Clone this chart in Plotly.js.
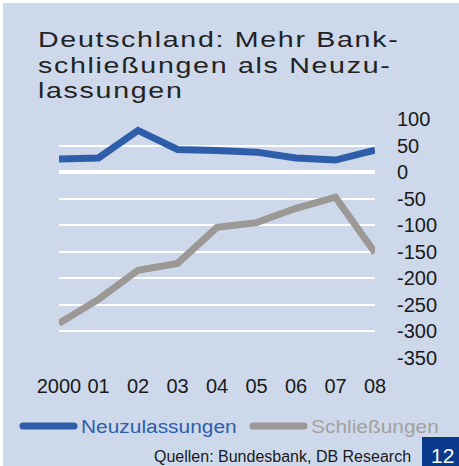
<!DOCTYPE html>
<html>
<head>
<meta charset="utf-8">
<script src="https://cdn.plot.ly/plotly-3.0.1.min.js"></script>
<style>
  html, body { margin: 0; padding: 0; background: #ffffff; }
  #chart { position: absolute; left: 3px; top: 3px; width: 456px; height: 463px; }
  g.annotation[data-index="0"] text,
  g.annotation[data-index="1"] text,
  g.annotation[data-index="2"] text {
    letter-spacing: 1.3px; transform-box: fill-box; transform-origin: left center; transform: scaleX(1.3);
  }
  g.annotation[data-index="3"] text,
  g.annotation[data-index="4"] text {
    transform-box: fill-box; transform-origin: left center; transform: scaleX(1.1);
  }
  .shapelayer path { stroke-linecap: round; }
</style>
</head>
<body>
<div id="chart"></div>
<script>
// ---- data ----
const years = ["2000", "01", "02", "03", "04", "05", "06", "07", "08"];
const neuzulassungen = [25, 27, 79, 43, 41, 38, 27, 23, 42];
const schliessungen = [-285, -240, -185, -172, -104, -95, -68, -47, -152];
const yTicks = [100, 50, 0, -50, -100, -150, -200, -250, -300, -350];
const seriesNames = ["Neuzulassungen", "Schließungen"];
const titleLines = ["Deutschland: Mehr Bank-", "schließungen als Neuzu-", "lassungen"];
const sourceText = "Quellen: Bundesbank, DB Research";
const pageNumber = "12";

// ---- layout geometry (pixels in the chart div) ----
const W = 456, H = 463;
const M = { l: 56, r: 84, t: 116, b: 108 };
const PW = W - M.l - M.r, PH = H - M.t - M.b;
const px = x => (x - M.l) / PW;           // div px -> paper x
const py = y => (M.t + PH - y) / PH;       // div px -> paper y

const BLUE = "#2e5eaa", GREY = "#9b9896", GREYTXT = "#a3a09e", BG = "#cdd8ea";
const FONT = "Liberation Sans, Arial, sans-serif";

const traces = [
  { x: years, y: neuzulassungen, name: seriesNames[0], type: "scatter", mode: "lines",
    line: { color: BLUE, width: 7 }, showlegend: false, hoverinfo: "skip" },
  { x: years, y: schliessungen, name: seriesNames[1], type: "scatter", mode: "lines",
    line: { color: GREY, width: 7 }, showlegend: false, hoverinfo: "skip" }
];

const annotations = [];
const titleMid = [36.5, 62.5, 88];
titleLines.forEach((t, i) => annotations.push({
  text: t, xref: "paper", yref: "paper", x: px(33), y: py(titleMid[i]),
  xanchor: "left", yanchor: "middle", align: "left", showarrow: false,
  font: { family: FONT, size: 22, color: "#222222" }
}));
annotations.push({ text: seriesNames[0], xref: "paper", yref: "paper", x: px(76), y: py(423),
  xanchor: "left", yanchor: "middle", showarrow: false, font: { family: FONT, size: 19, color: BLUE } });
annotations.push({ text: seriesNames[1], xref: "paper", yref: "paper", x: px(306), y: py(423),
  xanchor: "left", yanchor: "middle", showarrow: false, font: { family: FONT, size: 19, color: GREYTXT } });
annotations.push({ text: sourceText, xref: "paper", yref: "paper", x: px(410), y: py(453),
  xanchor: "right", yanchor: "middle", showarrow: false, font: { family: FONT, size: 16, color: "#1a1a1a" } });
annotations.push({ text: pageNumber, xref: "paper", yref: "paper", x: px(439), y: py(452.5),
  xanchor: "center", yanchor: "middle", showarrow: false, font: { family: FONT, size: 21, color: "#ffffff" } });

const shapes = [
  { type: "line", xref: "paper", yref: "paper", x0: px(20), x1: px(71), y0: py(423), y1: py(423),
    line: { color: BLUE, width: 7 } },
  { type: "line", xref: "paper", yref: "paper", x0: px(250), x1: px(301), y0: py(423), y1: py(423),
    line: { color: GREY, width: 7 } },
  { type: "rect", xref: "paper", yref: "paper", x0: px(419), x1: px(457), y0: py(434), y1: py(464),
    fillcolor: "#0b3a8c", line: { width: 0 }, layer: "below" }
];

const layout = {
  width: W, height: H,
  margin: M,
  paper_bgcolor: BG, plot_bgcolor: BG,
  font: { family: FONT, color: "#1a1a1a" },
  showlegend: false,
  xaxis: {
    type: "category", range: [0, 8], showgrid: false, zeroline: false, showline: false,
    ticks: "", tickfont: { family: FONT, size: 20, color: "#1a1a1a" }, ticklabelstandoff: 14,
    fixedrange: true
  },
  yaxis: {
    side: "right", range: [-350.6, 100.6], tickvals: yTicks, ticktext: yTicks.map(String),
    showgrid: true, gridcolor: "#ffffff", gridwidth: 2,
    zeroline: true, zerolinecolor: "#ffffff", zerolinewidth: 4,
    showline: false, ticks: "", tickfont: { family: FONT, size: 20, color: "#1a1a1a" },
    ticklabelstandoff: 21, fixedrange: true
  },
  annotations: annotations,
  shapes: shapes
};

Plotly.newPlot("chart", traces, layout, { staticPlot: true, displayModeBar: false });
</script>
</body>
</html>
